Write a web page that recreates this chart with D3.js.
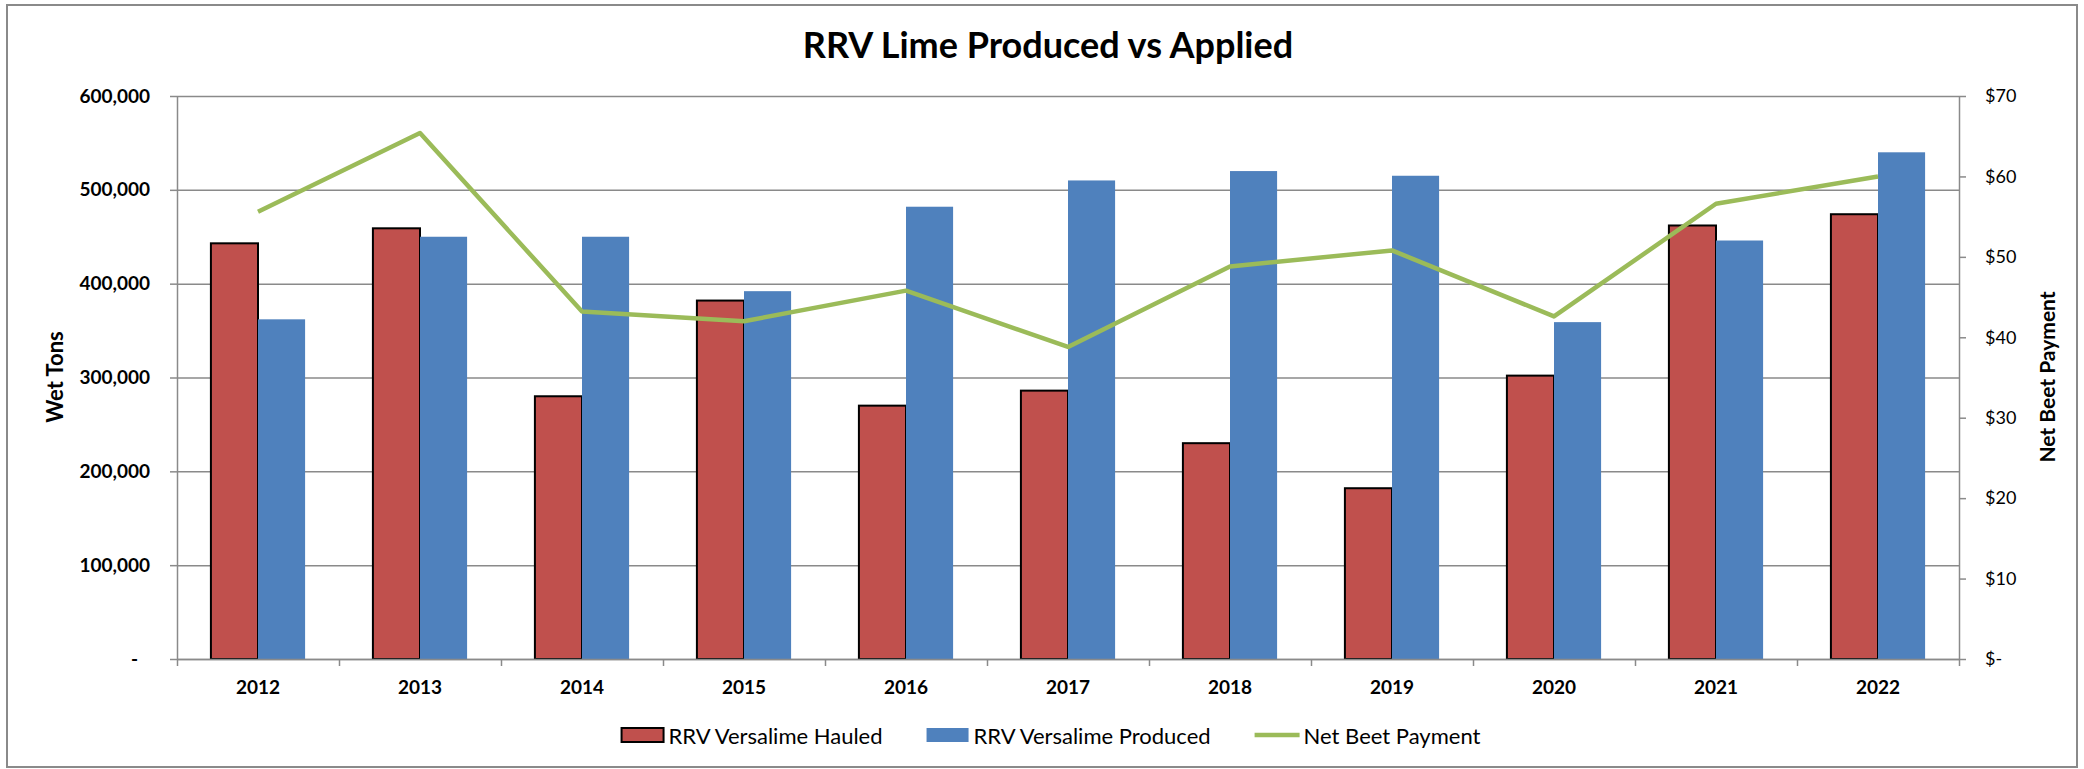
<!DOCTYPE html>
<html>
<head>
<meta charset="utf-8">
<script src="https://cdn.jsdelivr.net/npm/d3@7"></script>
<style>
  body { margin: 0; background: #fff; }
  text { font-family: Lato, "Open Sans", sans-serif; fill: #000; }
</style>
</head>
<body>
<div id="chart"></div>
<script>
var years = ["2012", "2013", "2014", "2015", "2016", "2017", "2018", "2019", "2020", "2021", "2022"];
var hauled = [443000, 459000, 280000, 382000, 270000, 286000, 230000, 182000, 302000, 462000, 474000];
var produced = [362000, 450000, 450000, 392000, 482000, 510000, 520000, 515000, 359000, 446000, 540000];
var payment = [55.6, 65.4, 43.2, 42.0, 45.8, 38.8, 48.8, 50.8, 42.6, 56.6, 60.0];
var leftTicks = [0, 100000, 200000, 300000, 400000, 500000, 600000];
var rightTicks = [0, 10, 20, 30, 40, 50, 60, 70];
var seriesNames = ["RRV Versalime Hauled", "RRV Versalime Produced", "Net Beet Payment"];

var svgWidth = 2084;
var svgHeight = 769;

var margin = {
  top: 96,
  right: 125,
  bottom: 110,
  left: 177
};

var width = svgWidth - margin.left - margin.right;
var height = svgHeight - margin.top - margin.bottom;

var gridColor = "#8a8a8a";
var red = "#C0504D";
var blue = "#4F81BD";
var green = "#9BBB59";

var svg = d3.select("#chart")
  .append("svg")
  .attr("width", svgWidth)
  .attr("height", svgHeight);

// outer frame
svg.append("rect")
  .attr("x", 7)
  .attr("y", 5)
  .attr("width", 2070)
  .attr("height", 762)
  .attr("fill", "none")
  .attr("stroke", gridColor)
  .attr("stroke-width", 2);

svg.append("text")
  .attr("x", 1048)
  .attr("y", 58)
  .attr("text-anchor", "middle")
  .style("font-size", "36px")
  .style("font-weight", "bold")
  .text("RRV Lime Produced vs Applied");

var g = svg.append("g")
  .attr("transform", `translate(${margin.left}, ${margin.top})`);

var x0 = d3.scaleBand()
  .domain(years)
  .range([0, width]);

var x1 = d3.scaleBand()
  .domain(["hauled", "produced"])
  .range([0, x0.bandwidth()])
  .paddingOuter(0.72);

var yLeft = d3.scaleLinear()
  .domain([0, 600000])
  .range([height, 0]);

var yRight = d3.scaleLinear()
  .domain([0, 70])
  .range([height, 0]);

// gridlines
var grid = g.append("g")
  .call(d3.axisLeft(yLeft).tickValues(leftTicks).tickSize(-width).tickFormat(""));
grid.select(".domain").remove();
grid.selectAll("line").attr("stroke", gridColor).attr("stroke-width", 1.5);

// bars
g.selectAll("rect.hauled")
  .data(hauled)
  .enter()
  .append("rect")
  .attr("class", "hauled")
  .attr("x", (d, i) => x0(years[i]) + x1("hauled"))
  .attr("y", d => yLeft(d))
  .attr("width", x1.bandwidth())
  .attr("height", d => height - yLeft(d))
  .attr("fill", red)
  .attr("stroke", "#000")
  .attr("stroke-width", 2);

g.selectAll("rect.produced")
  .data(produced)
  .enter()
  .append("rect")
  .attr("class", "produced")
  .attr("x", (d, i) => x0(years[i]) + x1("produced"))
  .attr("y", d => yLeft(d))
  .attr("width", x1.bandwidth())
  .attr("height", d => height - yLeft(d))
  .attr("fill", blue);

// x axis: boundary ticks + labels
var xTickScale = d3.scaleLinear().domain([0, years.length]).range([0, width]);
var xTicks = g.append("g")
  .attr("transform", `translate(0,${height})`)
  .call(d3.axisBottom(xTickScale).ticks(years.length).tickSize(7).tickSizeOuter(0).tickFormat(""));
xTicks.selectAll("path, line").attr("stroke", gridColor).attr("stroke-width", 1.5);

var xAxisG = g.append("g")
  .attr("transform", `translate(0,${height})`)
  .call(d3.axisBottom(x0).tickSize(0).tickPadding(22));
xAxisG.select(".domain").remove();
xAxisG.selectAll("text")
  .style("font-size", "19px")
  .style("font-weight", "bold")
  .style("font-family", "Lato, sans-serif");

// left axis
var leftAxisG = g.append("g")
  .call(d3.axisLeft(yLeft)
    .tickValues(leftTicks)
    .tickSize(7)
    .tickSizeOuter(0)
    .tickPadding(20)
    .tickFormat(d => d === 0 ? "-" : d3.format(",")(d)));
leftAxisG.selectAll("path, line").attr("stroke", gridColor).attr("stroke-width", 1.5);
leftAxisG.selectAll("text")
  .style("font-size", "19px")
  .style("font-weight", "bold")
  .style("font-family", "Lato, sans-serif")
  .attr("dx", d => d === 0 ? -12 : 0);

// right axis
var rightAxisG = g.append("g")
  .attr("transform", `translate(${width},0)`)
  .call(d3.axisRight(yRight)
    .tickValues(rightTicks)
    .tickSize(7)
    .tickSizeOuter(0)
    .tickPadding(19)
    .tickFormat(d => d === 0 ? "$-" : "$" + d));
rightAxisG.selectAll("path, line").attr("stroke", gridColor).attr("stroke-width", 1.5);
rightAxisG.selectAll("text")
  .style("font-size", "18px")
  .style("font-family", "Lato, sans-serif");

// payment line
var line = d3.line()
  .x((d, i) => x0(years[i]) + x0.bandwidth() / 2)
  .y(d => yRight(d));

g.append("path")
  .datum(payment)
  .attr("d", line)
  .attr("fill", "none")
  .attr("stroke", green)
  .attr("stroke-width", 4.5)
  .attr("stroke-linejoin", "round");

// axis titles
svg.append("text")
  .attr("transform", "translate(54,377) rotate(-90)")
  .attr("text-anchor", "middle")
  .attr("dominant-baseline", "central")
  .style("font-size", "22px")
  .style("font-weight", "bold")
  .text("Wet Tons");

svg.append("text")
  .attr("transform", "translate(2046,377) rotate(-90)")
  .attr("text-anchor", "middle")
  .attr("dominant-baseline", "central")
  .style("font-size", "21px")
  .style("font-weight", "bold")
  .text("Net Beet Payment");

// legend
var legend = svg.append("g");
var legendY = 735;
var xPos = 0;
seriesNames.forEach(function(name, i) {
  var item = legend.append("g").attr("transform", `translate(${xPos},0)`);
  if (i === 2) {
    item.append("line")
      .attr("x1", 0).attr("x2", 45)
      .attr("y1", legendY).attr("y2", legendY)
      .attr("stroke", green)
      .attr("stroke-width", 4.5);
  } else {
    item.append("rect")
      .attr("x", 0)
      .attr("y", legendY - 7)
      .attr("width", 42)
      .attr("height", 14)
      .attr("fill", i === 0 ? red : blue)
      .attr("stroke", i === 0 ? "#000" : "none")
      .attr("stroke-width", 2);
  }
  var t = item.append("text")
    .attr("x", i === 2 ? 49 : 47)
    .attr("y", legendY)
    .attr("dominant-baseline", "central")
    .style("font-size", "22px")
    .text(name);
  xPos += (i === 2 ? 49 : 47) + t.node().getComputedTextLength() + 44;
});
var legendWidth = xPos - 44;
legend.attr("transform", `translate(${1051 - legendWidth / 2},0)`);
</script>
</body>
</html>
